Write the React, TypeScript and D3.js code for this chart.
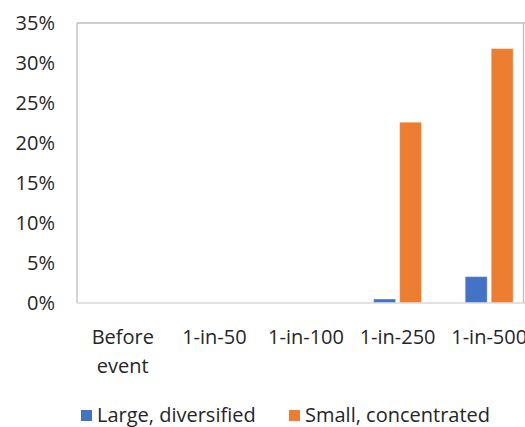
import React from "react";
import * as d3 from "d3";

const categories = ["Before event", "1-in-50", "1-in-100", "1-in-250", "1-in-500"];
const seriesNames = ["Large, diversified", "Small, concentrated"];
const largeDiversified = [0, 0, 0, 0.5, 3.3];
const smallConcentrated = [0, 0, 0, 22.6, 31.8];
const yTicks = [0, 5, 10, 15, 20, 25, 30, 35];
const colors = ["#4472C4", "#ED7D31"];

const W = 525;
const H = 427;
const margin = { left: 77, top: 23, right: -10, bottom: 124 };
const FONT = "'Open Sans', 'Noto Sans', sans-serif";
const FS = 20;

export default function App() {
  const plotRight = W - margin.right;
  const plotBottom = H - margin.bottom;
  const x = d3.scaleBand().domain(categories).range([margin.left, plotRight]).paddingInner(0).paddingOuter(0);
  const y = d3.scaleLinear().domain([0, 35]).range([plotBottom, margin.top]);
  const barW = 22;
  const offsets = [-13, 13];
  const series = [largeDiversified, smallConcentrated];

  return (
    <svg width={W} height={H} style={{ position: "absolute", left: 0, top: 0, background: "#fff", overflow: "hidden" }}>
      <line x1={margin.left} x2={W} y1={margin.top} y2={margin.top} stroke="#BFBFBF" strokeWidth={1.3} />
      <line x1={margin.left} x2={margin.left} y1={margin.top} y2={plotBottom} stroke="#BFBFBF" strokeWidth={1.3} />
      <line x1={523.5} x2={523.5} y1={margin.top} y2={plotBottom} stroke="#BFBFBF" strokeWidth={1.3} />
      {yTicks.map((t) => (
        <text key={t} x={55} y={y(t)} dy="0.35em" textAnchor="end" fontFamily={FONT} fontSize={FS} fill="#262626">
          {t}%
        </text>
      ))}
      {series.map((vals, si) =>
        categories.map((c, ci) => {
          const cx = (x(c) as number) + x.bandwidth() / 2 + offsets[si];
          const v = vals[ci];
          if (v <= 0) return null;
          return (
            <rect key={si + "-" + ci} x={cx - barW / 2} y={y(v)} width={barW} height={y(0) - y(v)} fill={colors[si]} stroke="#ffffff" strokeOpacity={0.4} strokeWidth={1} />
          );
        })
      )}
      <line x1={margin.left} x2={W} y1={plotBottom} y2={plotBottom} stroke="#D9D9D9" strokeWidth={1.5} />
      {categories.map((c) => {
        const cx = (x(c) as number) + x.bandwidth() / 2;
        const words = c === "Before event" ? ["Before", "event"] : [c];
        return (
          <text key={c} textAnchor="middle" fontFamily={FONT} fontSize={FS} fill="#262626">
            {words.map((w, i) => (
              <tspan key={i} x={cx} y={344 + i * 29}>{w}</tspan>
            ))}
          </text>
        );
      })}
      {seriesNames.map((n, i) => {
        const lx = i === 0 ? 81 : 289;
        return (
          <g key={n}>
            <rect x={lx} y={410} width={11} height={11} fill={colors[i]} />
            <text x={lx + 16} y={415} dy="0.35em" fontFamily={FONT} fontSize={FS} fill="#262626">{n}</text>
          </g>
        );
      })}
    </svg>
  );
}
